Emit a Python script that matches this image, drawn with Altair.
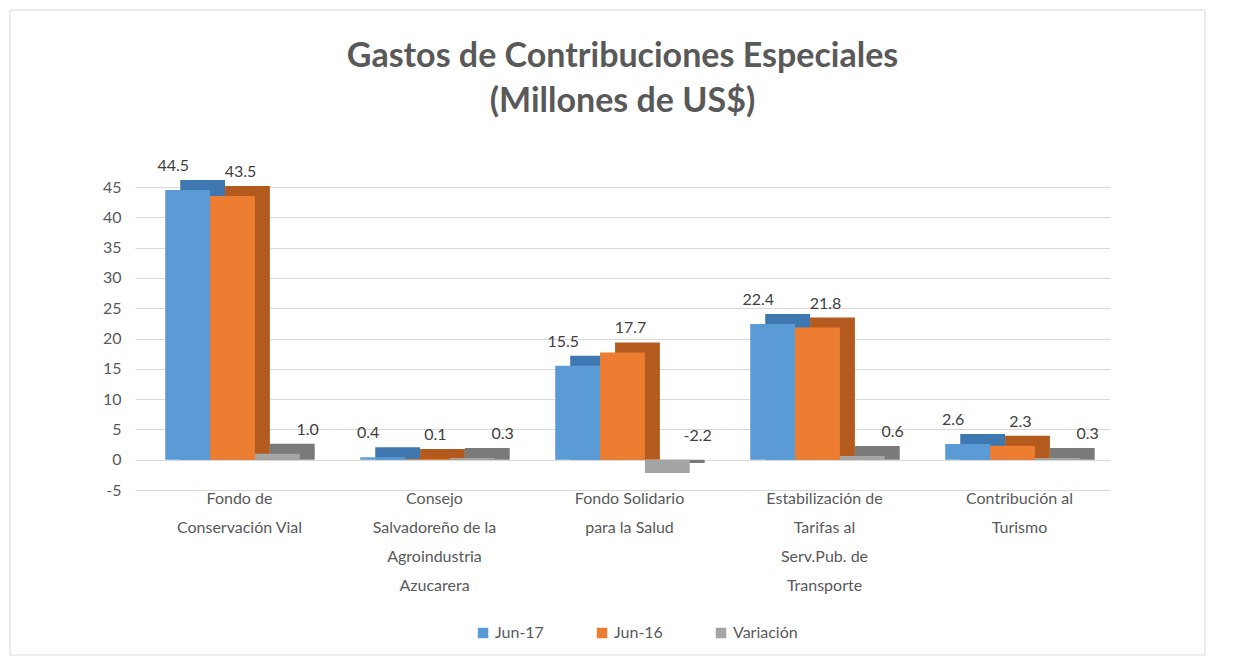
import altair as alt
import pandas as pd

categories = [
    "Fondo de|Conservación Vial",
    "Consejo|Salvadoreño de la|Agroindustria|Azucarera",
    "Fondo Solidario|para la Salud",
    "Estabilización de|Tarifas al|Serv.Pub. de|Transporte",
    "Contribución al|Turismo",
]
series = ["Jun-17", "Jun-16", "Variación"]
jun17 = [44.5, 0.4, 15.5, 22.4, 2.6]
jun16 = [43.5, 0.1, 17.7, 21.8, 2.3]
variacion = [1.0, 0.3, -2.2, 0.6, 0.3]
y_ticks = [-5, 0, 5, 10, 15, 20, 25, 30, 35, 40, 45]

front_colors = ["#5B9BD5", "#ED7D31", "#A5A5A5"]
side_colors = ["#3F78B0", "#B35B1E", "#7A7A7A"]

rows = []
for s, vals in zip(series, [jun17, jun16, variacion]):
    for c, v in zip(categories, vals):
        rows.append({"categoria": c, "serie": s, "valor": v, "sombra": s + " "})
df = pd.DataFrame(rows)

FONT = "Lato"
W, H = 975, 303
BANDW = 134.5  # band width of each category group (style)
DEPTH_X, DEPTH_Y = 15, -10

x_axis = alt.Axis(
    title=None,
    labelAngle=0,
    domain=False,
    ticks=False,
    labelExpr="split(datum.label, '|')",
    labelFontSize=16,
    labelLineHeight=29,
    labelColor="#595959",
    labelFont=FONT,
    labelPadding=0,
    labelOffset=7,
    labelLimit=300,
)
x_scale = alt.Scale(paddingInner=0.31, paddingOuter=0.155)
x_enc = alt.X("categoria:N", sort=categories, scale=x_scale, axis=x_axis)

y_scale = alt.Scale(domain=[-5, 45], nice=False, zero=False)
y_axis = alt.Axis(
    title=None,
    values=y_ticks,
    tickCount=len(y_ticks) + 1,
    domain=False,
    ticks=False,
    labelOverlap=False,
    labelExpr="datum.value < 0 ? '-' + abs(datum.value) : '' + datum.value",
    labelFontSize=16,
    labelColor="#595959",
    labelFont=FONT,
    labelPadding=14,
    gridColor="#D9D9D9",
    gridWidth=1,
)
y_enc = alt.Y("valor:Q", scale=y_scale, axis=y_axis)

base = alt.Chart(df)

shadow = base.mark_bar(yOffset=DEPTH_Y).encode(
    x=x_enc,
    xOffset=alt.XOffset(
        "sombra:N",
        sort=[s + " " for s in series],
        scale=alt.Scale(range=[DEPTH_X, DEPTH_X + BANDW], paddingInner=0, paddingOuter=0),
    ),
    y=y_enc,
    y2=alt.datum(0),
    color=alt.Color(
        "sombra:N",
        sort=[s + " " for s in series],
        scale=alt.Scale(domain=[s + " " for s in series], range=side_colors),
        legend=None,
    ),
)

xoff_front = alt.XOffset(
    "serie:N", sort=series,
    scale=alt.Scale(range=[0, BANDW], paddingInner=0, paddingOuter=0),
)

front = base.mark_bar().encode(
    x=x_enc,
    xOffset=xoff_front,
    y=y_enc,
    y2=alt.datum(0),
    color=alt.Color(
        "serie:N",
        sort=series,
        scale=alt.Scale(domain=series, range=front_colors),
        legend=alt.Legend(
            title=None,
            orient="none",
            direction="horizontal",
            legendX=340,
            legendY=438,
            symbolType="square",
            symbolSize=110,
            symbolStrokeWidth=0,
            labelFontSize=16,
            labelFont=FONT,
            labelColor="#595959",
            columnPadding=50,
            labelOffset=4,
        ),
    ),
)

labels = base.transform_calculate(
    etiqueta="datum.valor < 0 ? '-' + format(abs(datum.valor), '.1f') : format(datum.valor, '.1f')"
).transform_calculate(
    valor="max(datum.valor, 0)"
).mark_text(dy=-24, dx=8, fontSize=16, font=FONT, color="#404040").encode(
    x=x_enc,
    xOffset=xoff_front,
    y=y_enc,
    text=alt.Text("etiqueta:N"),
)

frame = alt.Chart(pd.DataFrame({"k": [0]})).mark_rect(
    fillOpacity=0, stroke="#D9D9D9", strokeWidth=1
).encode(
    x=alt.value(-125), x2=alt.value(W + 95),
    y=alt.value(-177), y2=alt.value(H + 165),
)

chart = alt.layer(frame, shadow, front, labels).resolve_scale(
    color="independent", xOffset="independent"
).properties(
    width=W,
    height=H,
    autosize=alt.AutoSizeParams(type="none"),
    padding={"left": 127, "top": 179, "right": 120, "bottom": 170},
    title=alt.TitleParams(
        text=["Gastos de Contribuciones Especiales", "(Millones de US$)"],
        fontSize=34,
        font=FONT,
        fontWeight="bold",
        color="#595959",
        lineHeight=45,
        anchor="middle",
        frame="group",
        offset=-109,
    ),
).configure_view(stroke=None)

chart.save("out.html", embed_options={"renderer": "svg", "actions": False})
